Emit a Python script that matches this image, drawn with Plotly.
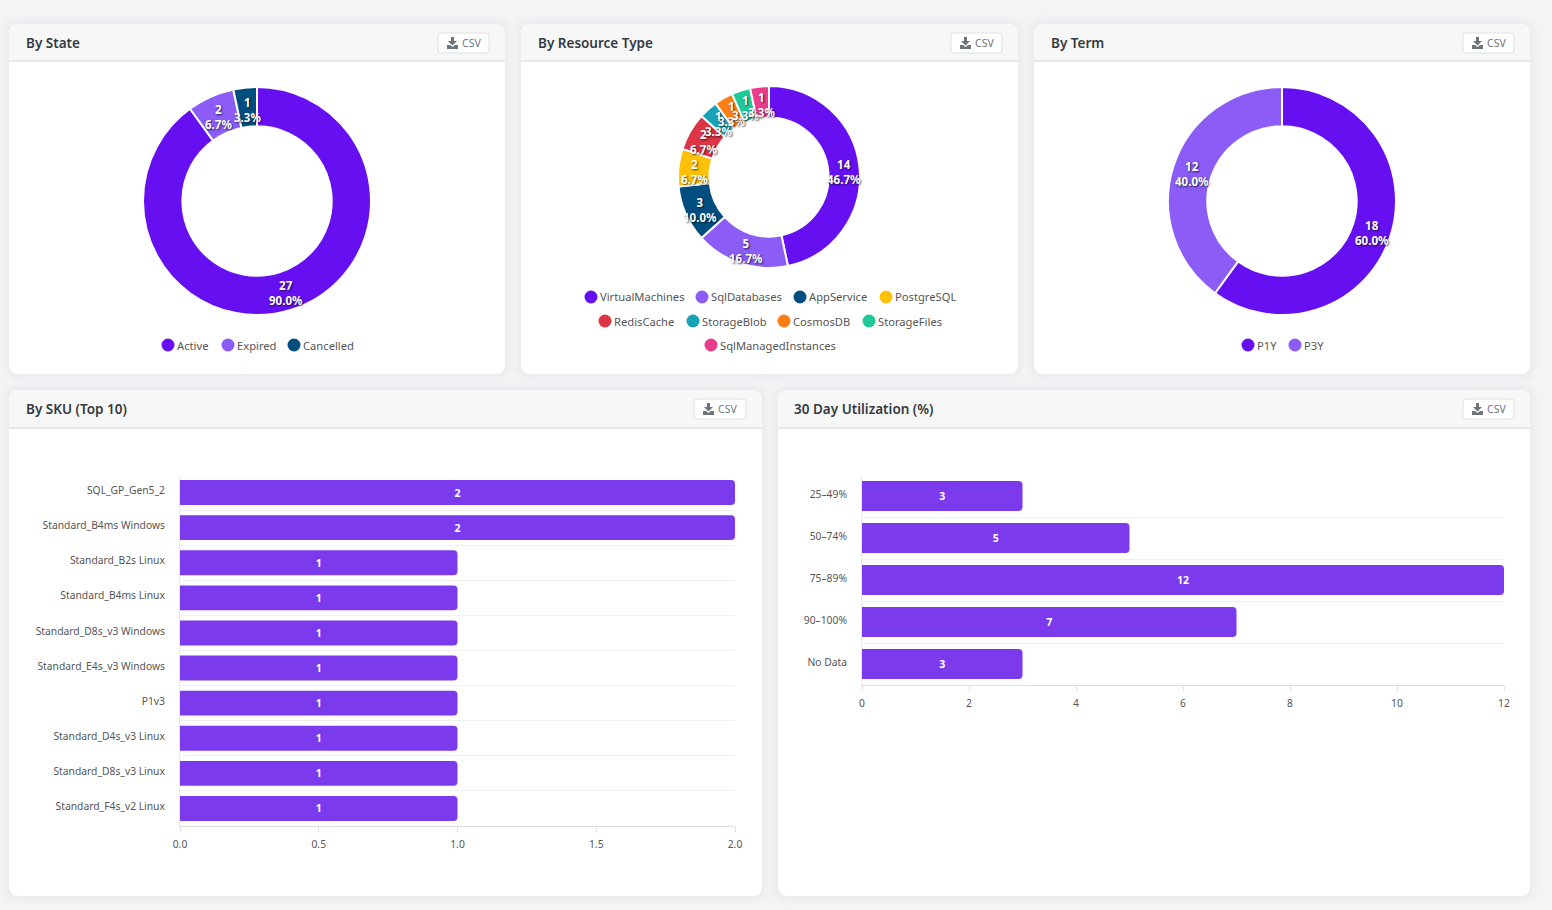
import math
import plotly.graph_objects as go

W = 1552
H = 910

# data
state_labels = ["Active", "Expired", "Cancelled"]
state_values = [27, 2, 1]
type_labels = ["VirtualMachines", "SqlDatabases", "AppService", "PostgreSQL", "RedisCache",
               "StorageBlob", "CosmosDB", "StorageFiles", "SqlManagedInstances"]
type_values = [14, 5, 3, 2, 2, 1, 1, 1, 1]
term_labels = ["P1Y", "P3Y"]
term_values = [18, 12]
sku_labels = ["SQL_GP_Gen5_2", "Standard_B4ms Windows", "Standard_B2s Linux", "Standard_B4ms Linux",
              "Standard_D8s_v3 Windows", "Standard_E4s_v3 Windows", "P1v3", "Standard_D4s_v3 Linux",
              "Standard_D8s_v3 Linux", "Standard_F4s_v2 Linux"]
sku_values = [2, 2, 1, 1, 1, 1, 1, 1, 1, 1]
util_labels = ["25–49%", "50–74%", "75–89%", "90–100%", "No Data"]
util_values = [3, 5, 12, 7, 3]
sku_ticks = [0, 0.5, 1, 1.5, 2]
sku_ticktext = ["0.0", "0.5", "1.0", "1.5", "2.0"]
util_ticks = [0, 2, 4, 6, 8, 10, 12]

pie_colors = ["#6610f2", "#8b5cf6", "#004e7f", "#ffc107", "#dc3545",
              "#17a2b8", "#fd7e14", "#20c997", "#e83e8c"]
bar_color = "#7c3aed"
FONT = "Noto Sans"
HOLE = 0.655


def px(x):
    return x / W


def py(y):
    return 1 - y / H


def round_path(x0, y0, x1, y1, r_top, r_bottom):
    # rounded rectangle in paper coords, input is in page pixels
    rx_t, ry_t = r_top / W, r_top / H
    rx_b, ry_b = r_bottom / W, r_bottom / H
    l, r, t, b = px(x0), px(x1), py(y0), py(y1)
    return (f"M {l + rx_t} {t} L {r - rx_t} {t} Q {r} {t} {r} {t - ry_t} "
            f"L {r} {b + ry_b} Q {r} {b} {r - rx_b} {b} "
            f"L {l + rx_b} {b} Q {l} {b} {l} {b + ry_b} "
            f"L {l} {t - ry_t} Q {l} {t} {l + rx_t} {t} Z")


shapes = []
annotations = []


def add_path(path, fill, line=None, width=0):
    shapes.append(dict(type="path", xref="paper", yref="paper", path=path, fillcolor=fill,
                       line=dict(color=line or fill, width=width), layer="below"))


def add_text(x, y, text, size=12, color="#555555", anchor="left", weight=400, shadow=None):
    font = dict(family=FONT, size=size, color=color, weight=weight)
    if shadow:
        font["shadow"] = shadow
    annotations.append(dict(x=px(x), y=py(y), xref="paper", yref="paper", text=text, showarrow=False,
                            xanchor=anchor, yanchor="middle", borderpad=0, font=font))


def add_card(x0, y0, x1, y1, line_y, title, btn_x0, btn_x1):
    # soft shadow
    for grow, col in [(9, "rgba(0,0,0,0.006)"), (6, "rgba(0,0,0,0.008)"), (3, "rgba(0,0,0,0.012)")]:
        add_path(round_path(x0 - grow, y0 - grow, x1 + grow, y1 + grow, 10 + grow, 10 + grow), col)
    add_path(round_path(x0, y0, x1, y1, 10, 10), "#ffffff")
    add_path(round_path(x0, y0, x1, line_y, 10, 0), "#f7f7f8")
    shapes.append(dict(type="line", xref="paper", yref="paper", x0=px(x0), x1=px(x1), y0=py(line_y), y1=py(line_y),
                       line=dict(color="#d3d4d6", width=1), layer="below"))
    add_text(x0 + 15.5, (y0 + line_y) / 2 + 0.5, title, size=13.5, color="#343a40", weight=600)
    # CSV button
    by0 = y0 + 9
    by1 = by0 + 20
    add_path(round_path(btn_x0, by0, btn_x1, by1, 3, 3), "#ffffff", "#dfe1e5", 1)
    ix = btn_x0 + 9
    iy = by0 + 4
    arrow = [(ix + 4, iy), (ix + 7, iy), (ix + 7, iy + 4), (ix + 10, iy + 4), (ix + 5.5, iy + 8.5), (ix + 1, iy + 4), (ix + 4, iy + 4)]
    tray = [(ix, iy + 8), (ix + 3, iy + 8), (ix + 5.5, iy + 10), (ix + 8, iy + 8), (ix + 11, iy + 8), (ix + 11, iy + 12), (ix, iy + 12)]
    for poly in (arrow, tray):
        p = "M " + " L ".join(f"{px(a)} {py(b)}" for a, b in poly) + " Z"
        add_path(p, "#6c757d")
    add_text(btn_x0 + 22.5, by0 + 10, "CSV", size=10.5, color="#6c757d")


def add_legend(labels, colors, xs, ys):
    for lab, col, x, y in zip(labels, colors, xs, ys):
        shapes.append(dict(type="circle", xref="paper", yref="paper", x0=px(x - 6.5), x1=px(x + 6.5),
                           y0=py(y + 6.5), y1=py(y - 6.5), fillcolor=col, line=dict(width=0), layer="below"))
        add_text(x + 8, y, lab, size=11.2)


def donut(labels, values, colors, cx, cy, r):
    # slice labels sit at the middle of the ring, pie text would get pushed around by plotly
    total = sum(values)
    cum = 0
    mid_r = r * (1 + HOLE) / 2
    for v in values:
        ang = 2 * math.pi * (cum + v / 2) / total
        cum += v
        add_text(cx + mid_r * math.sin(ang), cy - mid_r * math.cos(ang) + 2.5,
                 f"{v}<br>{v / total:.1%}", size=11.5, color="#ffffff", anchor="center", weight=700,
                 shadow="1px 1px 2px rgba(0,0,0,0.7)")
    return go.Pie(labels=labels, values=values, hole=HOLE, sort=False, direction="clockwise", rotation=0,
                  marker=dict(colors=colors, line=dict(color="#ffffff", width=2)),
                  textinfo="none", showlegend=False,
                  domain=dict(x=[px(cx - r), px(cx + r)], y=[py(cy + r), py(cy - r)]))


def hbar(labels, values, xa, ya):
    return go.Bar(y=labels, x=values, orientation="h", xaxis=xa, yaxis=ya, text=values, textposition="inside",
                  insidetextanchor="middle", textangle=0, marker=dict(color=bar_color, line=dict(width=0)),
                  textfont=dict(family=FONT, size=10.5, color="#ffffff", weight=700), showlegend=False)


def x_axis(x0, x1, anchor, rng, ticks, ticktext=None):
    return dict(domain=[px(x0), px(x1)], anchor=anchor, range=rng, tickvals=ticks, ticktext=ticktext,
                showgrid=False, zeroline=False, showline=True, linecolor="#e0e0e0", ticks="outside",
                ticklen=5, tickcolor="#e0e0e0", ticklabelstandoff=4,
                tickfont=dict(family=FONT, size=10.3, color="#555555"))


def y_axis(y0, y1, anchor):
    return dict(domain=[py(y1), py(y0)], anchor=anchor, autorange="reversed", type="category",
                tickson="boundaries", showgrid=True, gridcolor="#f0f0f0", zeroline=False, showline=True,
                linecolor="#ebebeb", ticks="", ticklabelstandoff=12, ticklabelshift=2,
                tickfont=dict(family=FONT, size=10.3, color="#555555"))


add_card(9, 24, 505, 374, 61, "By State", 438, 489)
add_card(521, 24, 1018, 374, 61, "By Resource Type", 951, 1002)
add_card(1034, 24, 1530, 374, 61, "By Term", 1463, 1514)
add_card(9, 390, 762, 896, 428, "By SKU (Top 10)", 694, 746)
add_card(778, 390, 1530, 896, 428, "30 Day Utilization (%)", 1463, 1514)

add_legend(state_labels, pie_colors, [168, 228, 294], [345, 345, 345])
add_legend(type_labels, pie_colors,
           [591, 702, 800, 886, 605, 693, 784, 869, 711],
           [297, 297, 297, 297, 321, 321, 321, 321, 345])
add_legend(term_labels, pie_colors, [1248, 1295], [345, 345])

fig = go.Figure()
fig.add_trace(donut(state_labels, state_values, pie_colors, 257, 201, 114))
fig.add_trace(donut(type_labels, type_values, pie_colors, 769, 177, 91))
fig.add_trace(donut(term_labels, term_values, pie_colors, 1282, 201, 114))
fig.add_trace(hbar(sku_labels, sku_values, "x", "y"))
fig.add_trace(hbar(util_labels, util_values, "x2", "y2"))

fig.update_layout(
    width=W, height=H, autosize=False, margin=dict(l=0, r=0, t=0, b=0, autoexpand=False),
    paper_bgcolor="#f3f4f6", plot_bgcolor="rgba(0,0,0,0)",
    shapes=shapes, annotations=annotations, bargap=0.29, barcornerradius=4,
    xaxis=x_axis(180, 735, "y", [0, 2], sku_ticks, sku_ticktext),
    yaxis=y_axis(475, 826, "x"),
    xaxis2=x_axis(862, 1504, "y2", [0, 12], util_ticks),
    yaxis2=y_axis(475, 685, "x2"),
)

fig.write_html("out.html", config=dict(displayModeBar=False),
               post_script="document.body.style.margin='0';document.body.style.overflow='hidden';")
